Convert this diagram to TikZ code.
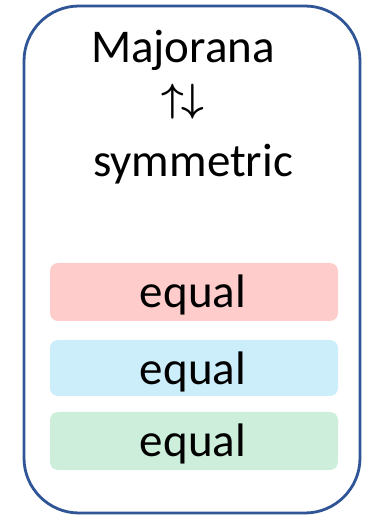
\documentclass[tikz,border=0pt]{standalone}
\usepackage{graphicx}
\usepackage{fontspec}
\setmainfont{Carlito}
\definecolor{frameblue}{RGB}{47,85,151}
\definecolor{barpink}{RGB}{255,204,204}
\definecolor{barblue}{RGB}{204,238,250}
\definecolor{bargreen}{RGB}{204,238,218}
\begin{document}
\begin{tikzpicture}[x=1pt,y=1pt,
  bigtext/.style={font=\fontsize{47}{50}\selectfont, anchor=base, inner sep=0pt},
  bar/.style={rounded corners=8pt, draw=none}]
\useasboundingbox (0,0) rectangle (366,515);
\draw[frameblue, line width=2.8pt, rounded corners=55pt] (24,2) rectangle (360,509);
\fill[barpink, bar] (50,194) rectangle (338,252);
\fill[barblue, bar] (50,119) rectangle (338,175);
\fill[bargreen, bar] (50,45) rectangle (338,103);
\node[bigtext] (maj) at (183,452) {Majorana};
\node[font={\fontsize{20}{22}\selectfont\mathversion{bold}}, inner sep=0pt] (arr) at (183,413) {\scalebox{1.9}{\(\uparrow\mkern-1mu\downarrow\)}};
\node[bigtext] (sym) at (193,338) {symmetric};
\node[bigtext] (e1) at (193,207) {equal};
\node[bigtext] (e2) at (193,130) {equal};
\node[bigtext] (e3) at (193,58) {equal};
\end{tikzpicture}
\end{document}
